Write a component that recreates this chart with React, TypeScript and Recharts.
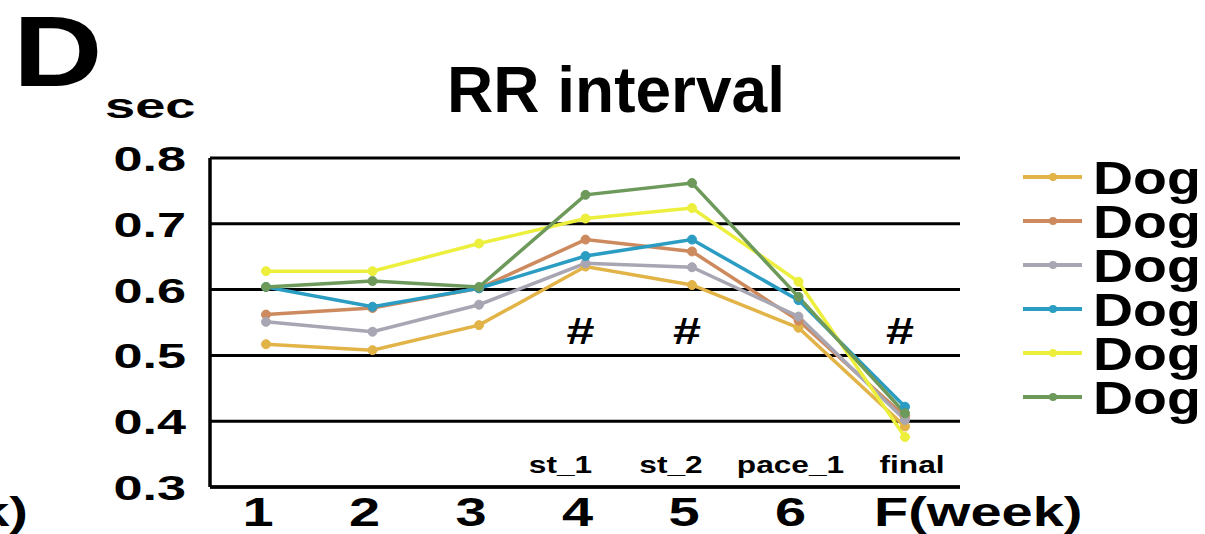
import React from 'react';
import { LineChart, Line, XAxis, YAxis, CartesianGrid, ReferenceDot } from 'recharts';

// RR interval (sec) per dog across the study weeks
const weeks = ['1', '2', '3', '4', '5', '6', 'F'];
const xTickLabels = ['1', '2', '3', '4', '5', '6', 'F(week)'];
const yTicks = [0.3, 0.4, 0.5, 0.6, 0.7, 0.8];

const dog1 = [0.517, 0.508, 0.546, 0.635, 0.607, 0.542, 0.392];
const dog2 = [0.562, 0.572, 0.602, 0.676, 0.658, 0.553, 0.407];
const dog3 = [0.551, 0.536, 0.577, 0.640, 0.634, 0.559, 0.402];
const dog4 = [0.604, 0.574, 0.602, 0.651, 0.676, 0.584, 0.422];
const dog5 = [0.628, 0.628, 0.670, 0.708, 0.724, 0.612, 0.376];
const dog6 = [0.604, 0.613, 0.604, 0.744, 0.762, 0.589, 0.412];

const seriesNames = ['Dog', 'Dog', 'Dog', 'Dog', 'Dog', 'Dog'];
const seriesValues = [dog1, dog2, dog3, dog4, dog5, dog6];

// stage annotations and significance marks
const stageWeeks = ['4', '5', '6', 'F'];
const stageNames = ['st_1', 'st_2', 'pace_1', 'final'];
const hashWeeks = ['4', '5', 'F'];
const hashLevel = 0.537;

// styling
const seriesColors = ['#e2b347', '#cd8a5e', '#a9a6b3', '#2b9cc2', '#ecef3c', '#6d9a5b'];
const stageDx = [-25, -21, -8, 7];
const FONT = "'Liberation Sans', Arial, Helvetica, sans-serif";

const chartData = weeks.map((w, i) => {
  const row: Record<string, string | number> = { week: w };
  seriesValues.forEach((vals, s) => {
    row[`dog${s + 1}`] = vals[i];
  });
  return row;
});

type STProps = {
  x: number;
  y: number;
  scale: number;
  size: number;
  anchor: 'start' | 'middle' | 'end';
  children: React.ReactNode;
};

function StretchText({ x, y, scale, size, anchor, children }: STProps) {
  return (
    <text
      transform={`translate(${x},${y}) scale(${scale},1)`}
      textAnchor={anchor}
      fontSize={size}
      fontWeight="bold"
      fontFamily={FONT}
      fill="#000"
    >
      {children}
    </text>
  );
}

function XTick(props: any) {
  const { x, y, payload } = props;
  const idx = weeks.indexOf(payload.value);
  const label = xTickLabels[idx] ?? payload.value;
  if (idx === weeks.length - 1) {
    return (
      <StretchText x={x - 31} y={y + 39} scale={1.4} size={40} anchor="start">
        {label}
      </StretchText>
    );
  }
  return (
    <StretchText x={x - 8} y={y + 39} scale={1.4} size={40} anchor="middle">
      {label}
    </StretchText>
  );
}

function YTick(props: any) {
  const { x, y, payload } = props;
  return (
    <StretchText x={x - 24} y={y + 13} scale={1.45} size={36} anchor="end">
      {Number(payload.value).toFixed(1)}
    </StretchText>
  );
}

export default function App() {
  return (
    <div style={{ position: 'absolute', left: 0, top: 0, width: 1205, height: 534, background: '#fff' }}>
      <LineChart
        width={1205}
        height={534}
        data={chartData}
        margin={{ top: 158, right: 245, bottom: 0, left: 110 }}
      >
        <CartesianGrid horizontal vertical={false} stroke="#000" strokeWidth={3} />
        <XAxis
          dataKey="week"
          padding={{ left: 56, right: 55 }}
          axisLine={{ stroke: '#000', strokeWidth: 3.5 }}
          tickLine={false}
          tickSize={0}
          tickMargin={0}
          height={47}
          interval={0}
          tick={<XTick />}
        />
        <YAxis
          domain={[0.3, 0.8]}
          ticks={yTicks}
          width={100}
          axisLine={{ stroke: '#000', strokeWidth: 3.5 }}
          tickLine={false}
          tickSize={0}
          tickMargin={0}
          interval={0}
          tick={<YTick />}
        />
        {seriesValues.map((_, s) => (
          <Line
            key={s}
            type="linear"
            dataKey={`dog${s + 1}`}
            stroke={seriesColors[s]}
            strokeWidth={3.5}
            dot={{ r: 4.5, fill: seriesColors[s], stroke: seriesColors[s], strokeWidth: 1 }}
            isAnimationActive={false}
          />
        ))}
        {hashWeeks.map((w) => (
          <ReferenceDot
            key={`h${w}`}
            x={w}
            y={hashLevel}
            r={0}
            shape={(p: any) => (
              <StretchText x={p.cx - 5} y={p.cy + 13} scale={1.4} size={36} anchor="middle">
                #
              </StretchText>
            )}
          />
        ))}
        {stageWeeks.map((w, i) => (
          <ReferenceDot
            key={`s${w}`}
            x={w}
            y={yTicks[0]}
            r={0}
            shape={(p: any) => (
              <StretchText x={p.cx + stageDx[i]} y={p.cy - 14} scale={1.32} size={24} anchor="middle">
                {stageNames[i]}
              </StretchText>
            )}
          />
        ))}
      </LineChart>
      <svg
        width={1205}
        height={534}
        style={{ position: 'absolute', left: 0, top: 0, pointerEvents: 'none' }}
      >
        <StretchText x={13} y={86} scale={1.24} size={100} anchor="start">
          D
        </StretchText>
        <StretchText x={105} y={118} scale={1.55} size={35} anchor="start">
          sec
        </StretchText>
        <StretchText x={616} y={112} scale={1} size={64} anchor="middle">
          RR interval
        </StretchText>
        <StretchText x={28} y={526} scale={1.4} size={40} anchor="end">
          (week)
        </StretchText>
        {seriesNames.map((name, s) => {
          const cy = 177 + 44 * s;
          return (
            <g key={s}>
              <line x1={1023} x2={1082} y1={cy} y2={cy} stroke={seriesColors[s]} strokeWidth={4} />
              <circle cx={1053} cy={cy} r={4} fill={seriesColors[s]} />
              <StretchText x={1093} y={cy + 17} scale={1.18} size={47} anchor="start">
                {name}
              </StretchText>
            </g>
          );
        })}
      </svg>
    </div>
  );
}
